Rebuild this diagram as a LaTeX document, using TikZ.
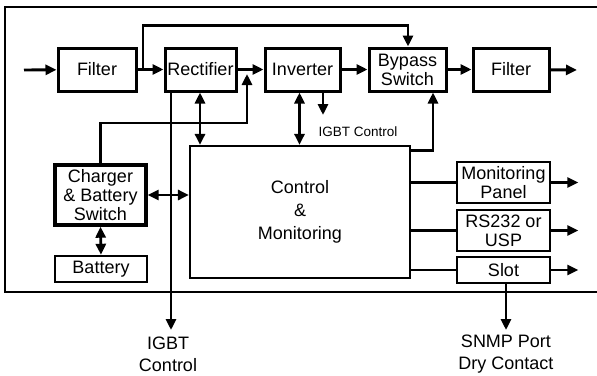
\documentclass[tikz,border=0pt]{standalone}
\usepackage{fontspec}
\setmainfont{Liberation Sans}
\usetikzlibrary{arrows.meta, positioning, calc}

\begin{document}
\begin{tikzpicture}[x=1pt, y=-1pt,
    font=\fontsize{18}{19}\selectfont,
    >={Triangle[length=11pt, width=10pt]},
    blk/.style={draw, line width=3pt, inner sep=1pt, align=center, minimum height=43pt},
    wire/.style={line width=2.9pt},
    thinwire/.style={line width=1.8pt},
    lbl/.style={align=center, font=\fontsize{18}{22}\selectfont}]
    \useasboundingbox (0,0) rectangle (597,375);

    % outer frame
    \draw[line width=2.8pt] (597,7) -| (5,292) -- (597,292);

    % top chain
    \node[blk, minimum width=78pt] (filterin) at (97,69.5) {Filter};
    \node[blk, minimum width=71pt] (rect) at (200.5,69.5) {Rectifier};
    \node[blk, minimum width=75pt] (inv) at (302.5,69.5) {Inverter};
    \node[blk, minimum width=77pt] (bypass) at (407.5,69.5) {Bypass\\Switch};
    \node[blk, minimum width=76pt] (filterout) at (511,69.5) {Filter};

    % control and side blocks
    \node[draw, line width=2.2pt, minimum width=220pt, minimum height=132pt, align=center,
          font=\fontsize{18}{23}\selectfont] (ctrl) at (300,212) {Control\\\&\\Monitoring};
    \node[blk, line width=3.4pt, minimum width=91pt, minimum height=60pt] (charger) at (100.5,195) {Charger\\\& Battery\\Switch};
    \node[blk, line width=2.4pt, minimum width=92pt, minimum height=26pt] (batt) at (101,269) {Battery};
    \node[blk, line width=2.6pt, minimum width=93pt, minimum height=41pt] (mon) at (503.5,182.5) {Monitoring\\Panel};
    \node[blk, line width=2.6pt, minimum width=93pt, minimum height=41pt] (rs) at (503.5,230.5) {RS232 or\\USP};
    \node[blk, line width=2.6pt, minimum width=93pt, minimum height=26pt] (slot) at (503.5,270) {Slot};

    % free ends
    \coordinate (in) at (24,70);
    \coordinate (out) at (577,70);
    \coordinate (tap) at (143,70);
    \coordinate (join) at (247,74);
    \coordinate (igbtsmall) at (323,115);
    \coordinate (igbtlong) at (171,330);
    \coordinate (snmp) at (506,330);

    % labels
    \node[font=\fontsize{13.5}{15}\selectfont] (igbtlbl) at (358,132) {IGBT Control};
    \node[lbl] (igbtout) at (168,354) {IGBT\\Control};
    \node[lbl] (snmplbl) at (506,354) {SNMP Port\\Dry Contact};

    % power path
    \draw[wire, ->] (in) -- (filterin);
    \draw[wire, ->] (filterin) -- (rect);
    \draw[wire, ->] (rect) -- (inv);
    \draw[wire, ->] (inv) -- (bypass);
    \draw[wire, ->] (bypass) -- (filterout);
    \draw[wire, ->] (filterout) -- (out);
    \draw[wire, ->] (tap) |- ([xshift=0.5pt, yshift=21pt]bypass.north) -- ([xshift=0.5pt]bypass.north);

    % control links
    \draw[wire, <->] ([xshift=-0.5pt]rect.south) -- ([xshift=-0.5pt]rect.south |- ctrl.north);
    \draw[wire, <->] ([xshift=-3pt]inv.south) -- ([xshift=-3pt]inv.south |- ctrl.north);
    \draw[wire, ->] ([xshift=20.5pt]inv.south) -- (igbtsmall);
    \draw[wire, ->] (charger.north) |- (247,123) -- (join);
    \draw[wire, ->] ([yshift=-6pt]ctrl.north east) -| ([xshift=25.5pt]bypass.south);
    \draw[wire, <->] (charger.east) -- (charger.east -| ctrl.west);
    \draw[wire, <->] (charger.south) -- (batt.north);
    \draw[wire, ->] ([xshift=-29.5pt]rect.south) -- (igbtlong);

    % outputs
    \draw[wire] (ctrl.east |- mon.west) -- (mon.west);
    \draw[wire] (ctrl.east |- rs.west) -- (rs.west);
    \draw[thinwire] (ctrl.east |- slot.west) -- (slot.west);
    \draw[wire, ->] (mon.east) -- ++(27,0);
    \draw[wire, ->] (rs.east) -- ++(27,0);
    \draw[wire, ->] (slot.east) -- ++(27,0);
    \draw[wire, ->] ([xshift=2.5pt]slot.south) -- (snmp);
\end{tikzpicture}
\end{document}
